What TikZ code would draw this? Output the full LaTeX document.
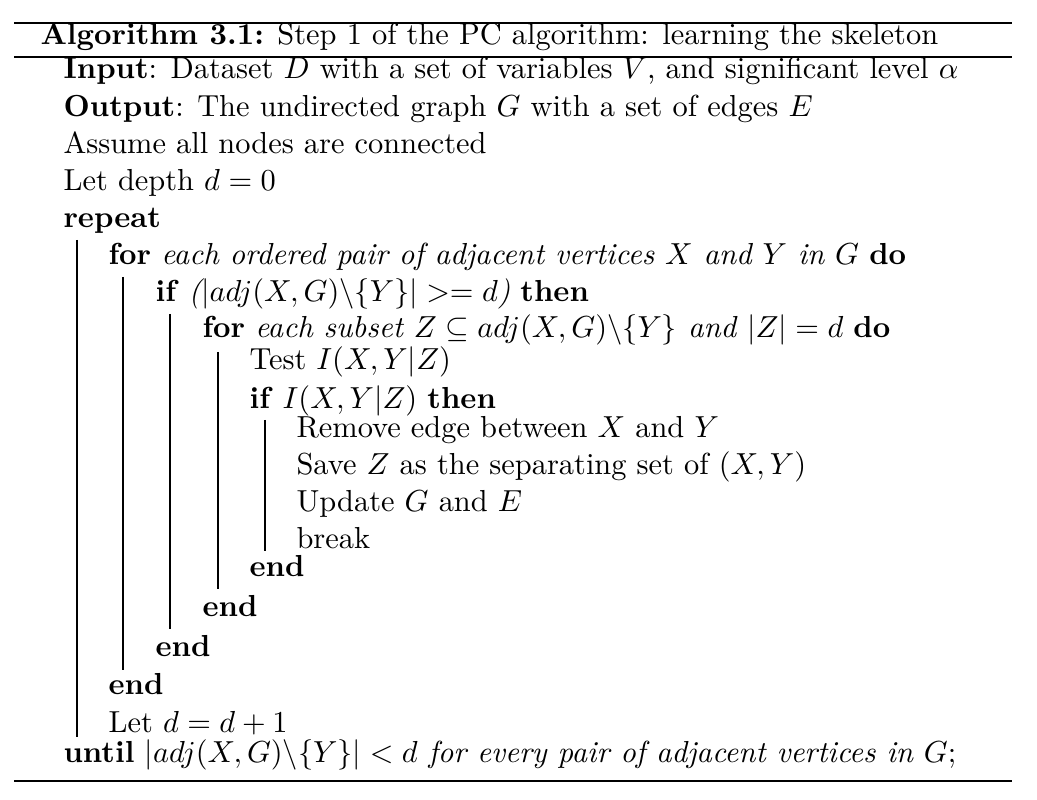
\documentclass[tikz,border=0pt]{standalone}
\usepackage{amsmath}
\usepackage{amssymb}
\usetikzlibrary{positioning}
\tikzset{%
codeline/.style={anchor=base west,inner sep=0pt,font=\fontsize{10.95}{13}\selectfont},
blockbar/.style={draw,line width=0.5pt},
algrule/.style={draw,line width=0.8pt}
}

\begin{document}
\begin{tikzpicture}[x=0.36pt,y=-0.36pt]

    \useasboundingbox (0,0) rectangle (1037,800);

    % rules of the algorithm box
    \coordinate (ruleAl) at (14,23);   \coordinate (ruleAr) at (1012,23);
    \coordinate (ruleBl) at (14,57);   \coordinate (ruleBr) at (1012,57);
    \coordinate (ruleCl) at (14,781);  \coordinate (ruleCr) at (1012,781);
    \path[algrule] (ruleAl) -- (ruleAr);
    \path[algrule] (ruleBl) -- (ruleBr);
    \path[algrule] (ruleCl) -- (ruleCr);

    \node[codeline] (title)   at (40,45)  {\textbf{Algorithm 3.1:} Step 1 of the PC algorithm: learning the skeleton};
    \node[codeline] (input)   at (63,79)  {\textbf{Input}: Dataset $D$ with a set of variables $V$, and significant level $\alpha$};
    \node[codeline] (output)  at (63,117) {\textbf{Output}: The undirected graph $G$ with a set of edges $E$};
    \node[codeline] (assume)  at (63,154) {Assume all nodes are connected};
    \node[codeline] (letd)    at (63,191) {Let depth $d=0$};
    \node[codeline] (repeat)  at (63,228) {\textbf{repeat}};
    \node[codeline] (forpair) at (108,265) {\textbf{for} \textit{each ordered pair of adjacent vertices $X$ and $Y$ in $G$} \textbf{do}};
    \node[codeline] (ifadj)   at (155,302) {\textbf{if} \textit{($|adj(X,G)\backslash\{Y\}| >= d$)} \textbf{then}};
    \node[codeline] (forsub)  at (202,338) {\textbf{for} \textit{each subset $Z\subseteq adj(X,G)\backslash\{Y\}$ and $|Z|=d$} \textbf{do}};
    \node[codeline] (test)    at (249,370) {Test $I(X,Y|Z)$};
    \node[codeline] (ifind)   at (249,409) {\textbf{if} $I(X,Y|Z)$ \textbf{then}};
    \node[codeline] (remove)  at (296,438) {Remove edge between $X$ and $Y$};
    \node[codeline] (save)    at (296,475) {Save $Z$ as the separating set of $(X,Y)$};
    \node[codeline] (update)  at (296,512) {Update $G$ and $E$};
    \node[codeline] (brk)     at (296,549) {break};
    \node[codeline] (endifind) at (249,577) {\textbf{end}};
    \node[codeline] (endforsub) at (202,617) {\textbf{end}};
    \node[codeline] (endifadj) at (155,657) {\textbf{end}};
    \node[codeline] (endforpair) at (108,695) {\textbf{end}};
    \node[codeline] (incd)    at (108,733) {Let $d=d+1$};
    \node[codeline] (until)   at (63,763) {\textbf{until} \textit{$|adj(X,G)\backslash\{Y\}| < d$ for every pair of adjacent vertices in $G$};};

    % block bars
    \path[blockbar] (77,240) -- (77,737);
    \path[blockbar] (123,277) -- (123,670);
    \path[blockbar] (170,314) -- (170,629);
    \path[blockbar] (218,352) -- (218,589);
    \path[blockbar] (265,420) -- (265,551);

  \end{tikzpicture}
\end{document}
